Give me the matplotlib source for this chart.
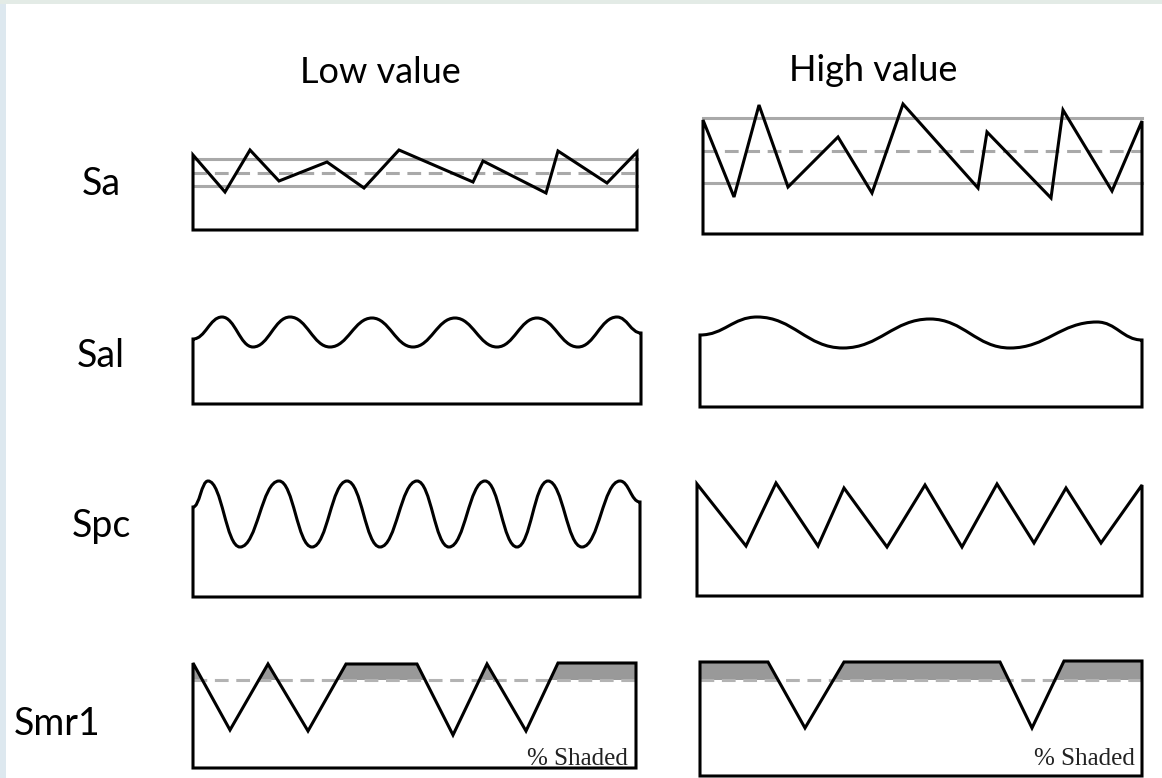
import numpy as np
import matplotlib.pyplot as plt
from matplotlib.path import Path
import matplotlib.patches as patches

# ---- data: profile vertices, local px (x from box left, height above box bottom) ----
sa_low_x = [0, 32, 57, 86, 134, 171, 206, 280, 290, 353, 365, 414, 444]
sa_low_h = [75, 38, 80, 49, 68, 42, 80, 48, 69, 37, 79, 47, 78]
sa_low_lines = [71, 57, 44]          # upper, mean (dashed), lower

sa_high_x = [0, 31, 56, 85, 135, 169, 200, 275, 284, 348, 360, 409, 439]
sa_high_h = [114, 37, 129, 47, 97, 41, 130, 46, 102, 36, 124, 43, 113]
sa_high_lines = [116, 83, 51]

sal_low_x = [0, 29, 60, 97, 137, 179, 220, 262, 304, 344, 385, 424, 448]
sal_low_h = [65, 87, 57, 87, 57, 86, 57, 86, 57, 86, 57, 87, 71]

sal_high_x = [0, 57, 143, 230, 310, 397, 442]
sal_high_h = [72, 90, 59, 88, 59, 85, 67]

spc_low_x = [0, 15, 47, 86, 119, 154, 187, 224, 256, 292, 324, 355, 389, 427, 447]
spc_low_h = [90, 116, 50, 116, 50, 116, 50, 116, 50, 116, 50, 116, 50, 116, 95]

spc_high_x = [0, 49, 79, 121, 147, 190, 228, 265, 300, 337, 369, 404, 445]
spc_high_h = [112, 50, 113, 50, 108, 49, 111, 49, 112, 53, 108, 53, 111]

smr_low_x = [0, 37, 75, 115, 153, 224, 260, 294, 333, 365, 443]
smr_low_h = [105, 38, 104, 37, 104, 104, 33, 104, 37, 105, 105]
smr_low_cut = 88

smr_high_x = [0, 68, 105, 144, 300, 332, 364, 442]
smr_high_h = [114, 114, 48, 114, 114, 48, 115, 115]
smr_high_cut = 96

col_titles = ["Low value", "High value"]
row_labels = ["Sa", "Sal", "Spc", "Smr1"]
shade_label = "% Shaded"

W, H = 1162, 778
fig = plt.figure(figsize=(W / 100, H / 100), dpi=100)
fig.patch.set_facecolor("white")
ax = fig.add_axes([0, 0, 1, 1])
ax.set_xlim(0, W)
ax.set_ylim(H, 0)
ax.axis("off")

# faint slide background showing at the edges
ax.add_patch(patches.Rectangle((0, 0), 6, H, color="#dde8ef", lw=0, zorder=0))
ax.add_patch(patches.Rectangle((0, 0), W, 4, color="#e3ebe6", lw=0, zorder=0))

BLACK_LW = 2.2
GRAY = "#a9a9a9"


def to_px(left, bottom, xs, hs):
    X = left + np.asarray(xs, float)
    Y = bottom - np.asarray(hs, float)
    return X, Y


def outline(left, bottom, xs, hs, smooth=False, k=0.42):
    X, Y = to_px(left, bottom, xs, hs)
    verts = [(X[0], bottom), (X[0], Y[0])]
    codes = [Path.MOVETO, Path.LINETO]
    for i in range(1, len(X)):
        if smooth:
            dx = X[i] - X[i - 1]
            verts += [(X[i - 1] + k * dx, Y[i - 1]), (X[i] - k * dx, Y[i]), (X[i], Y[i])]
            codes += [Path.CURVE4] * 3
        else:
            verts.append((X[i], Y[i]))
            codes.append(Path.LINETO)
    verts += [(X[-1], bottom), (X[0], bottom)]
    codes += [Path.LINETO, Path.CLOSEPOLY]
    p = patches.PathPatch(Path(verts, codes), facecolor="none", edgecolor="black",
                          lw=BLACK_LW, joinstyle="miter", zorder=3)
    ax.add_patch(p)
    return X, Y


# Sa
for left, bottom, xs, hs, lines in [(193, 230, sa_low_x, sa_low_h, sa_low_lines),
                                     (703, 234, sa_high_x, sa_high_h, sa_high_lines)]:
    X, Y = to_px(left, bottom, xs, hs)
    for j, h in enumerate(lines):
        ls = (0, (4.5, 2.5)) if j == 1 else "-"
        ax.plot([X[0], X[-1]], [bottom - h, bottom - h], color=GRAY, lw=2.2, ls=ls, zorder=2)
    outline(left, bottom, xs, hs)

# Sal
outline(193, 404, sal_low_x, sal_low_h, smooth=True)
outline(700, 407, sal_high_x, sal_high_h, smooth=True)

# Spc
outline(193, 597, spc_low_x, spc_low_h, smooth=True, k=0.44)
outline(697, 596, spc_high_x, spc_high_h)

# Smr1
for left, bottom, xs, hs, cut, tx in [(193, 768, smr_low_x, smr_low_h, smr_low_cut, 628),
                                      (700, 776, smr_high_x, smr_high_h, smr_high_cut, 1135)]:
    X, Y = to_px(left, bottom, xs, hs)
    yc = np.full_like(Y, bottom - cut)
    ax.fill_between(X, Y, yc, where=Y < yc, interpolate=True, color="#999999", lw=0, zorder=1)
    ax.plot([X[0], X[-1]], [bottom - cut, bottom - cut], color="#b3b3b3", lw=2.2,
            ls=(0, (4.5, 2.5)), zorder=2)
    outline(left, bottom, xs, hs)
    ax.text(tx, 765, shade_label, ha="right", va="baseline", fontsize=18,
            family=["Liberation Serif", "DejaVu Serif"], color="#222222", zorder=4)

# titles and row labels
lab_font = ["Lato", "DejaVu Sans"]
ax.text(380, 83, col_titles[0], ha="center", va="baseline", fontsize=26, family=lab_font)
ax.text(873, 81, col_titles[1], ha="center", va="baseline", fontsize=26, family=lab_font)
for lab, (x, y) in zip(row_labels, [(101, 195), (101, 367), (101, 537), (57, 735)]):
    ax.text(x, y, lab, ha="center", va="baseline", fontsize=27, family=lab_font)

fig.savefig("out.png", dpi=100, facecolor=fig.get_facecolor())
